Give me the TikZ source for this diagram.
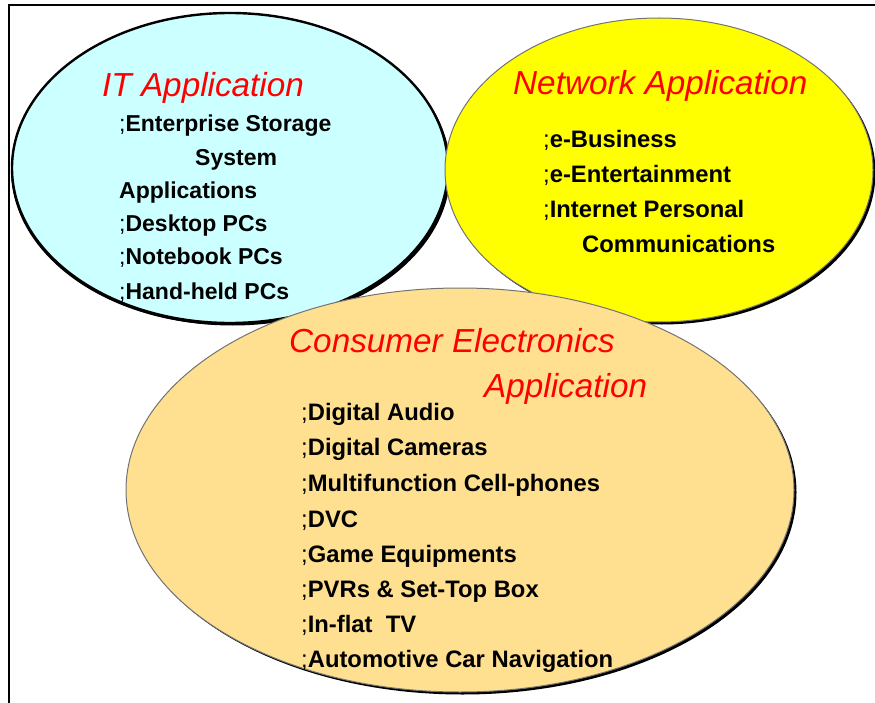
\documentclass[tikz,border=0pt]{standalone}
\usepackage{fontspec}
\setmainfont{Liberation Sans}
\usetikzlibrary{shapes.geometric,shadows}
\definecolor{itcyan}{RGB}{204,255,255}
\definecolor{netyellow}{RGB}{255,255,0}
\definecolor{ceorange}{RGB}{255,224,145}
\definecolor{titlered}{RGB}{255,0,0}
\tikzset{
  bubble/.style={ellipse, inner sep=0pt, draw=black!55, line width=1pt,
    drop shadow={shadow xshift=2.5pt, shadow yshift=-2.5pt, fill=black, opacity=1}},
  ttl/.style={anchor=base west, inner sep=0pt, text=titlered,
    font=\fontsize{33.3}{33.3}\selectfont\itshape},
  item/.style={anchor=base west, inner sep=0pt, text=black,
    font=\fontsize{23.8}{23.8}\selectfont\bfseries},
  itemsm/.style={item, font=\fontsize{23}{23}\selectfont\bfseries},
  frameline/.style={line width=2.2pt, black},
}
\newcommand{\bul}{{\mdseries;}}
\begin{document}
\begin{tikzpicture}[x=1pt,y=-1pt]
\useasboundingbox (0,0) rectangle (875,703);
\coordinate (fbl) at (8.7,703);
\coordinate (ftl) at (8.7,4.8);
\coordinate (ftr) at (875,4.8);
\draw[frameline] (fbl) -- (ftl) -- (ftr);

% IT Application
\node[bubble, fill=itcyan, draw=black, line width=2.4pt,
  drop shadow={shadow xshift=-1pt, shadow yshift=-2pt, fill=black, opacity=1},
  minimum width=436pt, minimum height=310pt] (it) at (230,168) {};
\node[ttl] (itT) at (102,97) {IT Application};
\node[itemsm] (it1) at (119,132) {\bul Enterprise Storage};
\node[itemsm] (it2) at (195,166) {System};
\node[itemsm] (it3) at (119,199) {Applications};
\node[itemsm] (it4) at (119,232) {\bul Desktop PCs};
\node[itemsm] (it5) at (119,265) {\bul Notebook PCs};
\node[itemsm] (it6) at (119,299) {\bul Hand-held PCs};

% Network Application
\node[bubble, fill=netyellow, minimum width=428pt, minimum height=304pt] (net) at (659,170) {};
\node[ttl] (netT) at (513,95) {Network Application};
\node[item] (net1) at (543,148) {\bul e-Business};
\node[item] (net2) at (543,183) {\bul e-Entertainment};
\node[item] (net3) at (543,218) {\bul Internet Personal};
\node[item] (net4) at (582,253) {Communications};

% Consumer Electronics Application
\node[bubble, fill=ceorange, minimum width=668pt, minimum height=404pt] (ce) at (460,490) {};
\node[ttl] (ceT1) at (289,352) {Consumer Electronics};
\node[ttl] (ceT2) at (484,397) {Application};
\node[item] (ce1) at (301,420) {\bul Digital Audio};
\node[item] (ce2) at (301,455) {\bul Digital Cameras};
\node[item] (ce3) at (301,491) {\bul Multifunction Cell-phones};
\node[item] (ce4) at (301,527) {\bul DVC};
\node[item] (ce5) at (301,562) {\bul Game Equipments};
\node[item] (ce6) at (301,597) {\bul PVRs \& Set-Top Box};
\node[item] (ce7) at (301,632) {\bul In-flat\ \ TV};
\node[item] (ce8) at (301,667) {\bul Automotive Car Navigation};
\end{tikzpicture}
\end{document}
